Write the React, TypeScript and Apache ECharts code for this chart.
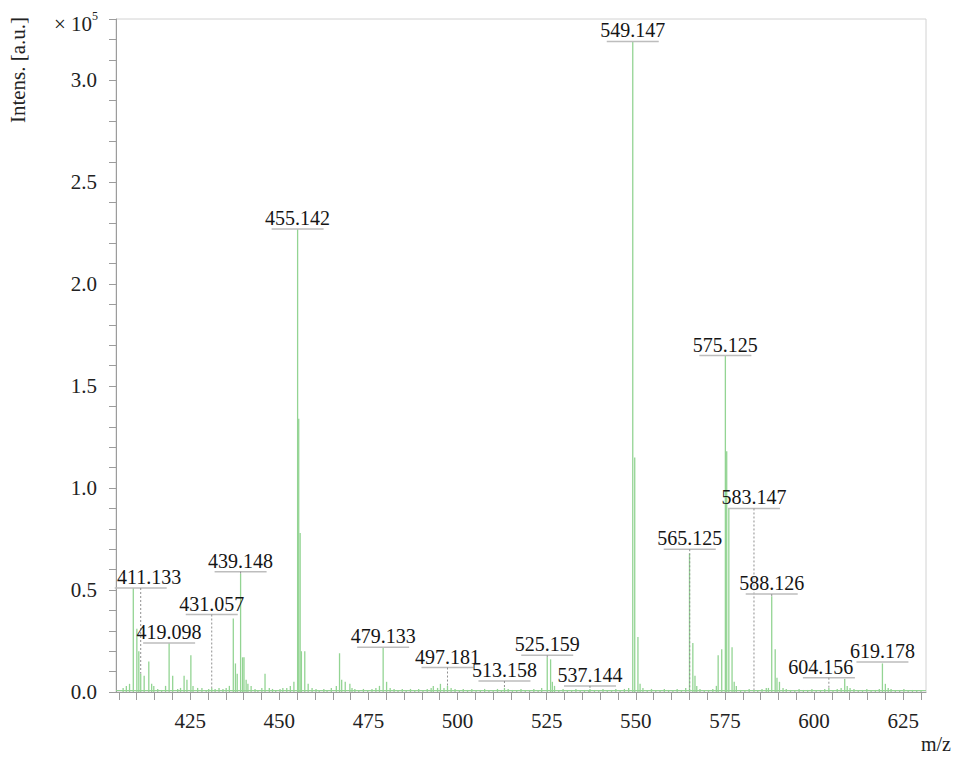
import React, { useEffect, useRef } from "react";
import * as echarts from "echarts";

// Intensities are in units of 10^5 counts.
// Main isotope clusters [m/z, intensity]
const CLUSTER_PEAKS: [number, number][] = [
  [409.05, 0.51], [410.05, 0.31], [410.6, 0.2], [411.133, 0.09], [412.1, 0.08], [413.4, 0.15], [414.2, 0.04],
  [419.098, 0.24], [420.1, 0.08], [423.3, 0.08], [424.1, 0.06], [425.2, 0.18], [425.8, 0.03],
  [437.1, 0.36], [437.7, 0.14], [438.2, 0.09], [439.148, 0.58], [439.7, 0.17], [440.1, 0.17], [440.7, 0.06], [441.2, 0.04],
  [446.0, 0.09],
  [455.142, 2.27], [455.45, 1.34], [455.85, 0.78], [456.2, 0.2], [457.15, 0.2], [458.1, 0.04],
  [466.9, 0.19], [467.5, 0.06], [468.5, 0.05], [469.8, 0.04],
  [479.133, 0.22], [480.1, 0.05],
  [525.159, 0.17], [526.1, 0.16], [526.6, 0.05], [527.2, 0.03],
  [549.147, 3.19], [549.7, 1.15], [550.6, 0.27], [551.2, 0.04],
  [565.06, 0.68], [566.0, 0.24], [566.6, 0.08], [567.1, 0.03],
  [573.1, 0.18], [574.1, 0.21], [575.125, 1.65], [575.5, 1.18], [576.1, 0.9], [577.0, 0.22], [577.6, 0.05],
  [588.126, 0.47], [589.1, 0.21], [589.6, 0.07], [590.3, 0.05], [591.3, 0.02],
  [608.6, 0.065], [609.3, 0.03],
  [619.178, 0.14], [620.0, 0.04], [620.8, 0.02],
];

// Low-level signals along the baseline [m/z, intensity]
const MINOR_PEAKS: [number, number][] = [
  [406.2, 0.02], [407.1, 0.03], [408.0, 0.04], [414.8, 0.03], [415.9, 0.015], [417.0, 0.01], [418.1, 0.03],
  [421.5, 0.015], [422.3, 0.02], [427.1, 0.02], [428.3, 0.02], [429.5, 0.01], [430.2, 0.015], [431.057, 0.02],
  [432.0, 0.015], [433.1, 0.02], [434.2, 0.015], [435.1, 0.02], [436.0, 0.03], [442.1, 0.03], [443.2, 0.015],
  [444.0, 0.01], [445.1, 0.02], [447.2, 0.02], [448.1, 0.015], [449.0, 0.01], [450.2, 0.015], [451.0, 0.02],
  [452.1, 0.02], [453.1, 0.03], [454.1, 0.05], [459.2, 0.02], [460.3, 0.015], [461.2, 0.01], [462.5, 0.015],
  [463.4, 0.01], [464.6, 0.02], [466.0, 0.03], [470.4, 0.02], [471.2, 0.015], [472.3, 0.01], [473.6, 0.015],
  [474.8, 0.01], [476.0, 0.015], [477.1, 0.02], [478.1, 0.03], [481.1, 0.02], [482.2, 0.015], [483.3, 0.01],
  [484.5, 0.015], [485.6, 0.01], [486.8, 0.015], [488.0, 0.01], [489.1, 0.015], [490.3, 0.01], [491.5, 0.015],
  [492.6, 0.02], [493.2, 0.03], [494.4, 0.02], [495.2, 0.04], [496.2, 0.02], [497.181, 0.03], [498.2, 0.02],
  [499.3, 0.015], [500.5, 0.01], [501.6, 0.015], [502.8, 0.01], [504.0, 0.015], [505.2, 0.01], [506.4, 0.01],
  [507.6, 0.015], [508.8, 0.01], [510.0, 0.01], [511.2, 0.015], [512.3, 0.01], [513.158, 0.02], [514.2, 0.015],
  [515.4, 0.01], [516.6, 0.01], [517.8, 0.015], [519.0, 0.01], [520.2, 0.01], [521.4, 0.015], [522.6, 0.01],
  [523.6, 0.02], [528.4, 0.01], [529.6, 0.015], [530.8, 0.01], [532.0, 0.01], [533.2, 0.015], [534.4, 0.01],
  [535.6, 0.01], [536.8, 0.01], [537.144, 0.015], [538.4, 0.01], [539.6, 0.01], [540.8, 0.015], [542.0, 0.01],
  [543.2, 0.01], [544.4, 0.015], [545.6, 0.01], [546.8, 0.015], [548.0, 0.02], [552.0, 0.02], [553.2, 0.01],
  [554.4, 0.015], [555.6, 0.01], [556.8, 0.01], [558.0, 0.015], [559.2, 0.01], [560.4, 0.01], [561.6, 0.015],
  [562.8, 0.01], [564.0, 0.02], [568.0, 0.015], [569.2, 0.01], [570.4, 0.01], [571.6, 0.015], [572.6, 0.03],
  [578.2, 0.03], [579.4, 0.01], [580.6, 0.01], [581.8, 0.015], [583.147, 0.01], [584.2, 0.01], [585.4, 0.015],
  [586.6, 0.02], [587.2, 0.02], [592.2, 0.015], [593.4, 0.01], [594.6, 0.01], [595.8, 0.015], [597.0, 0.01],
  [598.2, 0.01], [599.4, 0.015], [600.6, 0.01], [601.8, 0.01], [603.0, 0.015], [604.156, 0.02], [605.3, 0.01],
  [606.5, 0.015], [607.6, 0.02], [610.1, 0.02], [611.2, 0.015], [612.4, 0.01], [613.6, 0.01], [614.8, 0.015],
  [616.0, 0.01], [617.2, 0.01], [618.3, 0.015], [621.6, 0.015], [622.8, 0.01], [624.0, 0.01], [625.2, 0.015],
  [626.4, 0.01], [627.6, 0.01], [628.8, 0.01], [630.0, 0.01],
];

// Annotated peaks and the height of their label bar
const LABEL_MZ = [411.133, 419.098, 431.057, 439.148, 455.142, 479.133, 497.181, 513.158, 525.159, 537.144,
  549.147, 565.125, 575.125, 583.147, 588.126, 604.156, 619.178];
const LABEL_LEVEL = [0.51, 0.24, 0.38, 0.59, 2.27, 0.22, 0.12, 0.054, 0.18, 0.03,
  3.19, 0.70, 1.65, 0.90, 0.48, 0.07, 0.147];

const X_LABELS = [425, 450, 475, 500, 525, 550, 575, 600, 625];
const Y_LABELS = [0, 0.5, 1.0, 1.5, 2.0, 2.5, 3.0];

const X_MIN = 404.2;
const X_MAX = 631.4;
const Y_MAX = 3.3;
const BASELINE = 0.012;

const SERIF = '"Liberation Serif", "Times New Roman", serif';
const PEAK_GREEN = "#93d493";
const AXIS_GRAY = "#9c9c9c";

// horizontal nudges for labels that would collide with a neighbour
const LABEL_NUDGE: Record<string, number> = { "604.156": -8 };

export default function App() {
  const ref = useRef<HTMLDivElement>(null);

  useEffect(() => {
    if (!ref.current) return;
    const chart = echarts.init(ref.current, null, { renderer: "svg" });

    const sticks = [...CLUSTER_PEAKS, ...MINOR_PEAKS].sort((a, b) => a[0] - b[0]);
    const heightAt = (mz: number) => {
      const hit = sticks.find((p) => Math.abs(p[0] - mz) < 0.01);
      return hit ? hit[1] : 0;
    };
    const labelData = LABEL_MZ.map((mz, i) => [mz, LABEL_LEVEL[i], heightAt(mz)]);
    const xTicks: number[] = [];
    for (let v = 405; v <= 630; v += 5) xTicks.push(v);

    chart.setOption({
      animation: false,
      backgroundColor: "#ffffff",
      grid: {
        left: 116, right: 31, top: 19, bottom: 66,
        show: true, borderColor: "#d2d2d2", borderWidth: 1, backgroundColor: "transparent",
      },
      xAxis: {
        type: "value",
        min: X_MIN,
        max: X_MAX,
        axisLine: { show: true, lineStyle: { color: AXIS_GRAY, width: 1 } },
        axisTick: { show: true, customValues: xTicks, length: 8, lineStyle: { color: AXIS_GRAY } },
        axisLabel: {
          customValues: X_LABELS,
          margin: 18,
          color: "#222",
          fontFamily: SERIF,
          fontSize: 21,
          formatter: (v: number) => String(Math.round(v)),
        },
        splitLine: { show: false },
      },
      yAxis: {
        type: "value",
        min: 0,
        max: Y_MAX,
        interval: 0.1,
        axisLine: { show: true, lineStyle: { color: AXIS_GRAY, width: 1 } },
        axisTick: { show: true, length: 7, lineStyle: { color: AXIS_GRAY } },
        axisLabel: {
          margin: 19,
          color: "#222",
          fontFamily: SERIF,
          fontSize: 21,
          formatter: (v: number) =>
            Y_LABELS.some((l) => Math.abs(l - v) < 1e-6) ? v.toFixed(1) : "",
        },
        splitLine: { show: false },
      },
      series: [
        {
          type: "custom",
          name: "spectrum",
          data: sticks,
          clip: true,
          renderItem: (_params: any, api: any) => {
            const top = api.coord([api.value(0), api.value(1)]);
            const bottom = api.coord([api.value(0), 0]);
            return {
              type: "line",
              shape: { x1: top[0], y1: top[1], x2: bottom[0], y2: bottom[1] },
              style: { stroke: PEAK_GREEN, lineWidth: 1.3 },
            };
          },
          markLine: {
            silent: true,
            symbol: "none",
            label: { show: false },
            lineStyle: { color: PEAK_GREEN, width: 1, type: "solid" },
            data: [{ yAxis: BASELINE }],
          },
          z: 2,
        },
        {
          type: "custom",
          name: "annotations",
          data: labelData,
          renderItem: (params: any, api: any) => {
            const mz = api.value(0);
            const p = api.coord([mz, api.value(1)]);
            const base = api.coord([mz, api.value(2)]);
            const cs = params.coordSys;
            const text = mz.toFixed(3);
            const halfText = 33;
            let tx = p[0] + (LABEL_NUDGE[text] || 0);
            tx = Math.max(cs.x + halfText, Math.min(cs.x + cs.width - halfText, tx));
            const children: any[] = [
              {
                type: "line",
                shape: { x1: p[0] - 26, y1: p[1], x2: p[0] + 26, y2: p[1] },
                style: { stroke: "#bdbdbd", lineWidth: 1.5 },
              },
            ];
            if (base[1] - p[1] > 2) {
              children.push({
                type: "line",
                shape: { x1: p[0], y1: p[1], x2: p[0], y2: base[1] },
                style: { stroke: "#8f8f8f", lineWidth: 1, lineDash: [2, 2] },
              });
            }
            children.push({
              type: "text",
              x: tx,
              y: p[1] - 1,
              style: {
                text,
                fill: "#151515",
                font: `20px ${SERIF}`,
                align: "center",
                verticalAlign: "bottom",
              },
            });
            return { type: "group", children };
          },
          z: 3,
        },
      ],
      graphic: [
        {
          type: "text",
          x: 18,
          y: 70,
          rotation: Math.PI / 2,
          style: {
            text: "Intens. [a.u.]",
            font: `21px ${SERIF}`,
            fill: "#222",
            align: "center",
            verticalAlign: "middle",
          },
        },
        {
          type: "text",
          x: 54,
          y: 24,
          style: {
            text: "× 10",
            font: `21px ${SERIF}`,
            fill: "#222",
            align: "left",
            verticalAlign: "middle",
          },
        },
        {
          type: "text",
          x: 92,
          y: 16,
          style: {
            text: "5",
            font: `12px ${SERIF}`,
            fill: "#222",
            align: "left",
            verticalAlign: "middle",
          },
        },
        {
          type: "text",
          x: 951,
          y: 744,
          style: {
            text: "m/z",
            font: `20px ${SERIF}`,
            fill: "#222",
            align: "right",
            verticalAlign: "middle",
          },
        },
      ],
    });

    return () => chart.dispose();
  }, []);

  return <div ref={ref} style={{ width: 957, height: 758, position: "absolute", left: 0, top: 0 }} />;
}
